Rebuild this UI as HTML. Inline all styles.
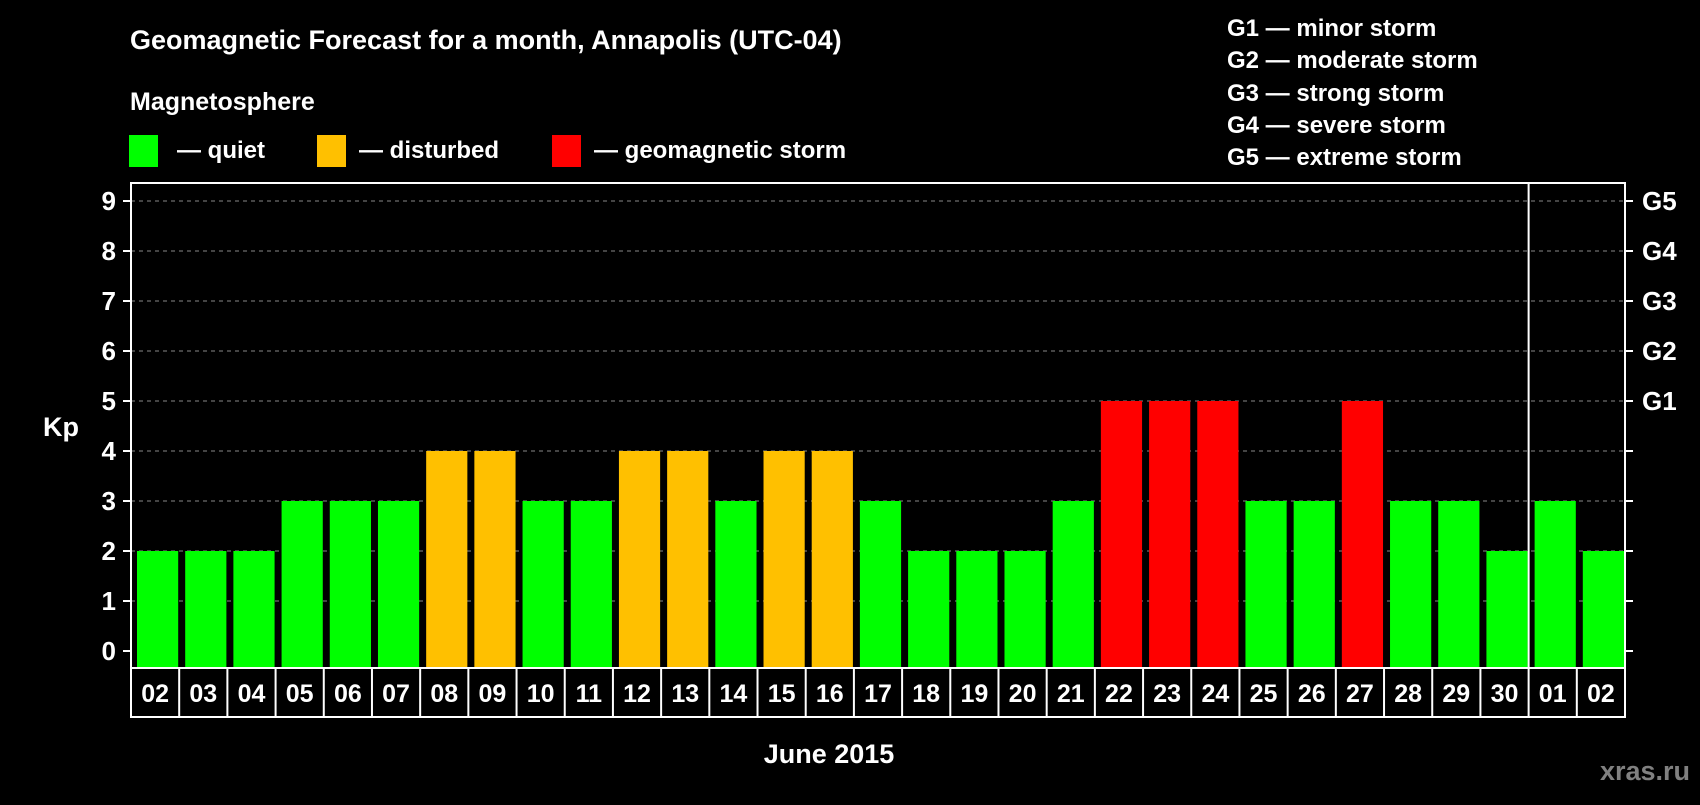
<!DOCTYPE html>
<html><head><meta charset="utf-8"><style>
body{margin:0;background:#000;width:1700px;height:800px;overflow:hidden}
svg text{font-family:"Liberation Sans",Arial,sans-serif;font-weight:bold;fill:#fff}
</style></head><body>
<svg id="chart" width="1700" height="800" xmlns="http://www.w3.org/2000/svg">
<text x="130" y="49" font-size="27">Geomagnetic Forecast for a month, Annapolis (UTC-04)</text>
<text x="130" y="110" font-size="25">Magnetosphere</text>
<rect x="129" y="135" width="29" height="32" fill="#00ff00"/>
<text x="177" y="158" font-size="24">— quiet</text>
<rect x="317" y="135" width="29" height="32" fill="#ffc000"/>
<text x="359" y="158" font-size="24">— disturbed</text>
<rect x="552" y="135" width="29" height="32" fill="#ff0000"/>
<text x="594" y="158" font-size="24">— geomagnetic storm</text>
<g font-size="24">
<text x="1227" y="36">G1 — minor storm</text>
<text x="1227" y="68">G2 — moderate storm</text>
<text x="1227" y="101">G3 — strong storm</text>
<text x="1227" y="133">G4 — severe storm</text>
<text x="1227" y="165">G5 — extreme storm</text>
</g>
<text x="43" y="436" font-size="27">Kp</text>
<text x="829" y="763" font-size="27" text-anchor="middle">June 2015</text>
<text x="1690" y="780" font-size="27" text-anchor="end" style="fill:#808080">xras.ru</text>
<g id="plot"></g>
</svg>
<script>
const days=["02","03","04","05","06","07","08","09","10","11","12","13","14","15","16","17","18","19","20","21","22","23","24","25","26","27","28","29","30","01","02"];
const kpValues=[2,2,2,3,3,3,4,4,3,3,4,4,3,4,4,3,2,2,2,3,5,5,5,3,3,5,3,3,2,3,2];
const yTicks=[0,1,2,3,4,5,6,7,8,9];
const gLabels=["G1","G2","G3","G4","G5"];
const L=131,R=1625,T=183,B=668,rowB=717;
const cw=(R-L)/days.length;
const y=v=>651-v*50;
const x=i=>L+i*cw;
const NS="http://www.w3.org/2000/svg";
const g=document.getElementById('plot');
function mk(t,a){const e=document.createElementNS(NS,t);for(const k in a)e.setAttribute(k,a[k]);g.appendChild(e);return e;}
yTicks.forEach(v=>{
  if(v>0){const l=mk('line',{x1:L,x2:R,y1:y(v),y2:y(v),stroke:'#888','stroke-dasharray':'4,4','stroke-width':1});
  
  }
  const t1=mk('line',{x1:L-8,x2:L,y1:y(v),y2:y(v),stroke:'#fff','stroke-width':2});
  
  
  const t2=mk('line',{x1:R,x2:R+8,y1:y(v),y2:y(v),stroke:'#fff','stroke-width':2});
  
  
  const tx=mk('text',{x:116,y:y(v)+9,'font-size':26,'text-anchor':'end'});tx.textContent=v;
  
  
});
gLabels.forEach((s,i)=>{
  const tx=mk('text',{x:1642,y:y(5+i)+9,'font-size':26});tx.textContent=s;
  
  
});
kpValues.forEach((v,i)=>{
  const c=v>=5?'#ff0000':v>=4?'#ffc000':'#00ff00';
  const r=mk('rect',{x:x(i)+6,y:y(v),width:cw-6-1,height:B-y(v),fill:c});
  
  
  const tx=mk('text',{x:x(i)+cw/2,y:702,'font-size':25,'text-anchor':'middle'});tx.textContent=days[i];
  
  
  const s=mk('line',{x1:x(i),x2:x(i),y1:B,y2:rowB,stroke:'#fff','stroke-width':2});
  
  
});
const sepI=days.indexOf("01");
const sep=mk('line',{x1:x(sepI),x2:x(sepI),y1:T,y2:B,stroke:'#fff','stroke-width':2});


const fr=mk('rect',{x:L,y:T,width:R-L,height:B-T,fill:'none',stroke:'#fff','stroke-width':2});


const rw=mk('rect',{x:L,y:B,width:R-L,height:rowB-B,fill:'none',stroke:'#fff','stroke-width':2});


</script>
</body></html>
